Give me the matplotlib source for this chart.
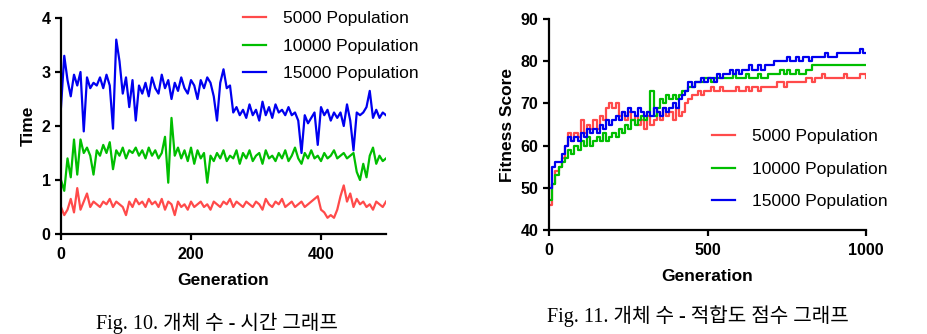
import numpy as np
import matplotlib.pyplot as plt

# left chart: time per generation (every 5th generation)
gen_time = np.arange(0, 501, 5)
time_5000 = [0.50, 0.35, 0.45, 0.65, 0.40, 0.85, 0.45, 0.60, 0.75, 0.50,
             0.60, 0.55, 0.50, 0.60, 0.55, 0.65, 0.50, 0.60, 0.55, 0.50,
             0.35, 0.60, 0.50, 0.65, 0.55, 0.60, 0.50, 0.65, 0.55, 0.60,
             0.50, 0.65, 0.45, 0.60, 0.55, 0.35, 0.60, 0.50, 0.55, 0.45,
             0.60, 0.50, 0.55, 0.60, 0.50, 0.55, 0.45, 0.60, 0.55, 0.50,
             0.60, 0.55, 0.65, 0.50, 0.60, 0.55, 0.50, 0.60, 0.55, 0.50,
             0.60, 0.55, 0.45, 0.65, 0.55, 0.50, 0.60, 0.55, 0.65, 0.50,
             0.55, 0.60, 0.50, 0.55, 0.60, 0.50, 0.55, 0.60, 0.65, 0.70,
             0.45, 0.40, 0.30, 0.35, 0.30, 0.45, 0.70, 0.90, 0.60, 0.75,
             0.50, 0.65, 0.55, 0.60, 0.50, 0.55, 0.45, 0.60, 0.55, 0.50,
             0.60]
time_10000 = [1.00, 0.80, 1.40, 1.05, 1.75, 1.10, 1.75, 1.50, 1.60, 1.45,
              1.10, 1.55, 1.45, 1.65, 1.50, 1.70, 1.20, 1.55, 1.45, 1.60,
              1.40, 1.55, 1.50, 1.60, 1.45, 1.55, 1.40, 1.60, 1.45, 1.55,
              1.40, 1.50, 1.80, 0.95, 2.15, 1.45, 1.60, 1.40, 1.55, 1.35,
              1.60, 1.30, 1.55, 1.40, 1.50, 0.95, 1.45, 1.35, 1.50, 1.40,
              1.55, 1.35, 1.45, 1.40, 1.55, 1.30, 1.50, 1.40, 1.55, 1.35,
              1.45, 1.50, 1.30, 1.55, 1.40, 1.45, 1.35, 1.50, 1.40, 1.55,
              1.35, 1.45, 1.60, 1.40, 1.30, 1.50, 1.40, 1.55, 1.40, 1.45,
              1.35, 1.50, 1.40, 1.45, 1.55, 1.40, 1.45, 1.50, 1.40, 1.45,
              1.50, 1.15, 1.00, 1.30, 1.05, 1.45, 1.60, 1.30, 1.45, 1.35,
              1.40]
time_15000 = [2.35, 3.30, 2.85, 2.55, 2.95, 2.75, 3.00, 1.90, 2.90, 2.70,
              2.80, 2.75, 2.90, 2.70, 2.95, 2.75, 1.95, 3.60, 3.20, 2.60,
              2.90, 2.35, 2.85, 2.10, 2.75, 2.60, 2.80, 2.55, 2.90, 2.70,
              2.60, 2.95, 2.70, 2.85, 2.50, 2.80, 2.65, 2.90, 2.70, 2.60,
              2.85, 2.75, 2.50, 2.85, 2.70, 2.90, 2.80, 2.55, 2.10, 2.80,
              3.05, 2.70, 2.75, 2.25, 2.35, 2.20, 2.30, 2.15, 2.40, 2.20,
              2.30, 2.10, 2.45, 2.20, 2.35, 2.15, 2.40, 2.25, 2.30, 2.20,
              2.35, 2.20, 2.25, 2.10, 1.50, 2.20, 2.05, 2.15, 2.25, 1.65,
              2.35, 2.20, 2.30, 2.10, 2.25, 2.15, 2.25, 2.00, 2.40, 2.10,
              1.55, 2.25, 2.20, 2.25, 2.35, 2.65, 2.15, 2.30, 2.15, 2.25,
              2.20]

# right chart: fitness score (every 10th generation)
gen_fit = np.arange(0, 1001, 10)
fit_5000 = [46, 51, 54, 55, 57, 60, 63, 61, 63, 62,
            66, 63, 65, 64, 66, 64, 67, 66, 69, 70,
            69, 70, 67, 68, 66, 68, 66, 67, 65, 66,
            64, 67, 65, 66, 68, 66, 69, 67, 68, 66,
            69, 67, 68, 70, 71, 72, 72, 73, 72, 73,
            73, 74, 73, 73, 74, 73, 73, 73, 73, 74,
            73, 73, 74, 73, 74, 74, 73, 74, 74, 74,
            74, 74, 75, 75, 74, 75, 75, 75, 75, 75,
            75, 76, 76, 75, 76, 76, 77, 76, 76, 76,
            76, 76, 76, 77, 76, 76, 76, 76, 77, 77,
            76]
fit_10000 = [47, 51, 53, 55, 56, 57, 59, 58, 60, 59,
             61, 60, 62, 60, 61, 62, 61, 63, 61, 62,
             63, 62, 64, 63, 65, 64, 66, 65, 66, 67,
             66, 68, 73, 67, 69, 71, 70, 72, 71, 72,
             71, 72, 73, 73, 74, 74, 75, 75, 75, 76,
             76, 75, 76, 76, 76, 76, 76, 76, 77, 76,
             76, 76, 77, 76, 76, 76, 77, 76, 76, 77,
             77, 77, 77, 78, 77, 78, 77, 77, 78, 77,
             77, 78, 78, 79, 79, 79, 79, 79, 79, 79,
             79, 79, 79, 79, 79, 79, 79, 79, 79, 79,
             79]
fit_15000 = [50, 55, 56, 56, 58, 60, 62, 61, 62, 61,
             63, 62, 64, 63, 64, 63, 65, 64, 66, 65,
             66, 67, 66, 68, 67, 69, 68, 67, 69, 68,
             67, 68, 67, 69, 68, 67, 69, 68, 69, 70,
             69, 71, 72, 73, 75, 74, 75, 75, 76, 75,
             76, 76, 75, 77, 76, 77, 77, 78, 77, 78,
             77, 78, 78, 79, 78, 78, 79, 78, 79, 79,
             79, 80, 80, 80, 80, 81, 80, 80, 81, 80,
             81, 81, 80, 81, 81, 81, 81, 82, 81, 81,
             81, 82, 82, 82, 82, 82, 82, 82, 83, 82,
             82]

labels = ['5000 Population', '10000 Population', '15000 Population']
colors = ['#FF4A4A', '#00BE00', '#0000F0']

plt.rcParams['font.family'] = ['Liberation Sans', 'DejaVu Sans']
fig = plt.figure(figsize=(9.27, 3.34), dpi=100)

ax1 = fig.add_axes([61/927, 100/334, 325/927, 216/334])
ax2 = fig.add_axes([549/927, 104/334, 317/927, 211/334])

for y, c, lab in zip([time_5000, time_10000, time_15000], colors, labels):
    ax1.plot(gen_time, y, color=c, lw=1.6, label=lab)
for y, c, lab in zip([fit_5000, fit_10000, fit_15000], colors, labels):
    ax2.plot(gen_fit, y, color=c, lw=1.6, label=lab, drawstyle='steps-post')

ax1.set_xlim(0, 500)
ax1.set_ylim(0, 4)
ax1.set_xticks([0, 200, 400])
ax1.set_yticks([0, 1, 2, 3, 4])
ax1.set_xlabel('Generation', fontsize=12.5, fontweight='bold', labelpad=8)
ax1.set_ylabel('Time', fontsize=12.5, fontweight='bold')

ax2.set_xlim(0, 1000)
ax2.set_ylim(40, 90)
ax2.set_xticks([0, 500, 1000])
ax2.set_yticks([40, 50, 60, 70, 80, 90])
ax2.set_xlabel('Generation', fontsize=12.5, fontweight='bold', labelpad=8)
ax2.set_ylabel('Fitness Score', fontsize=12.5, fontweight='bold')

for ax in (ax1, ax2):
    ax.spines['top'].set_visible(False)
    ax.spines['right'].set_visible(False)
    ax.spines['left'].set_linewidth(1.6)
    ax.spines['bottom'].set_linewidth(1.6)
    ax.tick_params(width=1.6, length=4, labelsize=11.5)
    ax.tick_params(axis='x', pad=5.5)
    for t in ax.get_xticklabels() + ax.get_yticklabels():
        t.set_fontweight('bold')

ax1.legend(loc='upper left', bbox_to_anchor=(243/927, 1 - 11/334), bbox_transform=fig.transFigure,
           frameon=False, fontsize=12.5, handlelength=1.3, handletextpad=1.0, labelspacing=0.71,
           borderpad=0, borderaxespad=0)
ax2.legend(loc='upper left', bbox_to_anchor=(712/927, 1 - 129/334), bbox_transform=fig.transFigure,
           frameon=False, fontsize=12.5, handlelength=1.3, handletextpad=1.0, labelspacing=1.0,
           borderpad=0, borderaxespad=0)

cap_font = ['Liberation Serif', 'Noto Sans CJK KR']
fig.text(217/927, 1 - 323/334, 'Fig. 10. 개체 수 - 시간 그래프', ha='center', va='center',
         fontsize=14.5, family=cap_font)
fig.text(698/927, 1 - 316/334, 'Fig. 11. 개체 수 - 적합도 점수 그래프', ha='center', va='center',
         fontsize=14.5, family=cap_font)

fig.savefig('out.png', dpi=100)
